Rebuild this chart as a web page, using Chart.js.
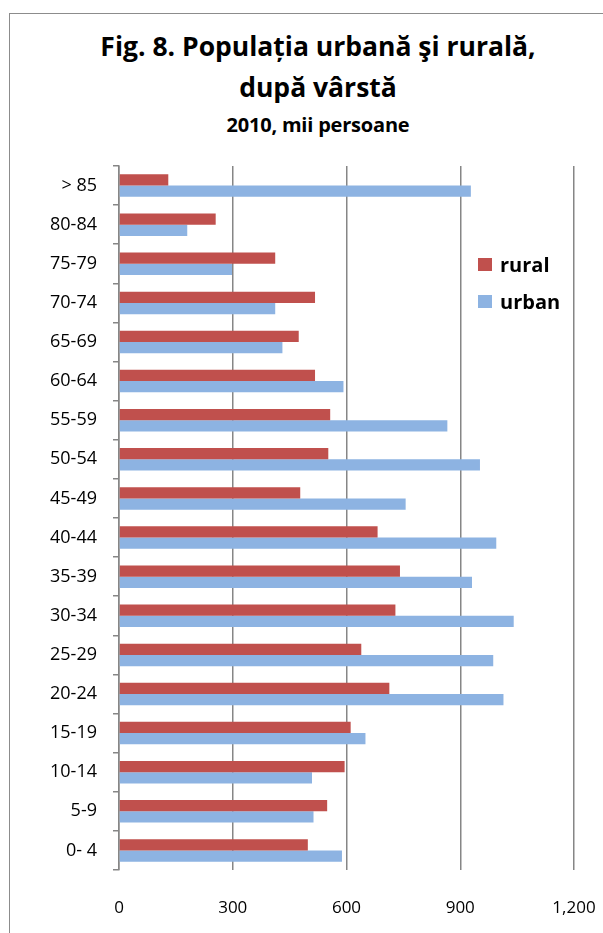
<!DOCTYPE html>
<html>
<head>
<meta charset="utf-8">
<script src="https://cdn.jsdelivr.net/npm/chart.js@4/dist/chart.umd.min.js"></script>
<style>
    body { margin: 0; background: #fff; }
    #wrap { position: relative; width: 603px; height: 933px; overflow: hidden; font-family: 'Open Sans', sans-serif; }
    #frame { position: absolute; left: 9px; top: 13px; width: 640px; height: 960px; border: 1px solid #8c8c8c; }
    #title { position: absolute; left: 0; width: 640px; top: 26px; text-align: center; color: #000; font-weight: bold; }
    #title .main { font-size: 26.5px; line-height: 41px; }
    #title .sub { font-size: 20px; line-height: 34px; letter-spacing: -0.2px; }
    #legend { position: absolute; left: 478px; top: 246px; font-weight: bold; font-size: 20px; color: #000; }
    #legend div { height: 37px; display: flex; align-items: center; }
    #legend span.box { display: inline-block; width: 14px; height: 13px; margin-right: 8px; }
    canvas { position: absolute; left: 0; top: 0; }
</style>
</head>
<body>
<div id="wrap">
    <div id="frame"></div>
    <div id="title" style="width:636px">
        <div class="main">Fig. 8. Populația urbană şi rurală,<br>după vârstă</div>
        <div class="sub">2010, mii persoane</div>
    </div>
    <canvas id="age-chart" width="603" height="933"></canvas>
    <div id="legend"></div>
</div>
<script>
// age groups, top to bottom
const ageGroups = ['> 85', '80-84', '75-79', '70-74', '65-69', '60-64', '55-59', '50-54', '45-49',
    '40-44', '35-39', '30-34', '25-29', '20-24', '15-19', '10-14', '5-9', '0- 4'];
const rural = [130, 255, 412, 517, 474, 517, 557, 552, 478, 682, 741, 729, 639, 713, 611, 595, 549, 498];
const urban = [928, 180, 298, 412, 431, 592, 866, 952, 756, 995, 931, 1041, 987, 1014, 650, 509, 513, 588];
const xTicks = [0, 300, 600, 900, 1200];

const seriesColors = { rural: '#c0504d', urban: '#8db3e2' };

const ctx = document.getElementById('age-chart').getContext('2d');
const chart = new Chart(ctx, {
    type: 'bar',
    data: {
        labels: ageGroups,
        datasets: [
            { label: 'rural', data: rural, backgroundColor: seriesColors.rural },
            { label: 'urban', data: urban, backgroundColor: seriesColors.urban }
        ]
    },
    options: {
        indexAxis: 'y',
        responsive: false,
        animation: false,
        datasets: {
            bar: { barPercentage: 1, categoryPercentage: 0.575 }
        },
        layout: { padding: { top: 166, right: 29, bottom: 0, left: 0 } },
        plugins: {
            legend: { display: false },
            tooltip: { enabled: false }
        },
        scales: {
            x: {
                position: 'bottom',
                min: 0,
                max: 1200,
                afterBuildTicks: function(scale) {
                    scale.ticks = xTicks.map(v => ({ value: v }));
                },
                afterFit: function(scale) {
                    // keep the plot width fixed, the labels may overhang
                    scale.height = 63;
                    scale.paddingLeft = 0;
                    scale.paddingRight = 0;
                },
                border: { display: false },
                grid: { color: '#868686', lineWidth: 1.5, drawTicks: false },
                ticks: {
                    padding: 28,
                    color: '#000',
                    font: { family: 'Open Sans', size: 17 },
                    callback: function(value) { return value.toLocaleString('en-US'); }
                }
            },
            y: {
                afterFit: function(scale) { scale.width = 119; },
                border: { display: true, color: '#868686', width: 1.5 },
                grid: { drawOnChartArea: false, drawTicks: true, tickLength: 6, color: '#868686', lineWidth: 1.5, offset: true },
                ticks: {
                    padding: 16,
                    color: '#000',
                    font: { family: 'Open Sans', size: 18 }
                }
            }
        }
    }
});

// legend entries built from the datasets
const legendEl = document.getElementById('legend');
chart.data.datasets.forEach(ds => {
    const row = document.createElement('div');
    row.innerHTML = `<span class="box" style="background:${ds.backgroundColor}"></span>${ds.label}`;
    legendEl.appendChild(row);
});
</script>
</body>
</html>
